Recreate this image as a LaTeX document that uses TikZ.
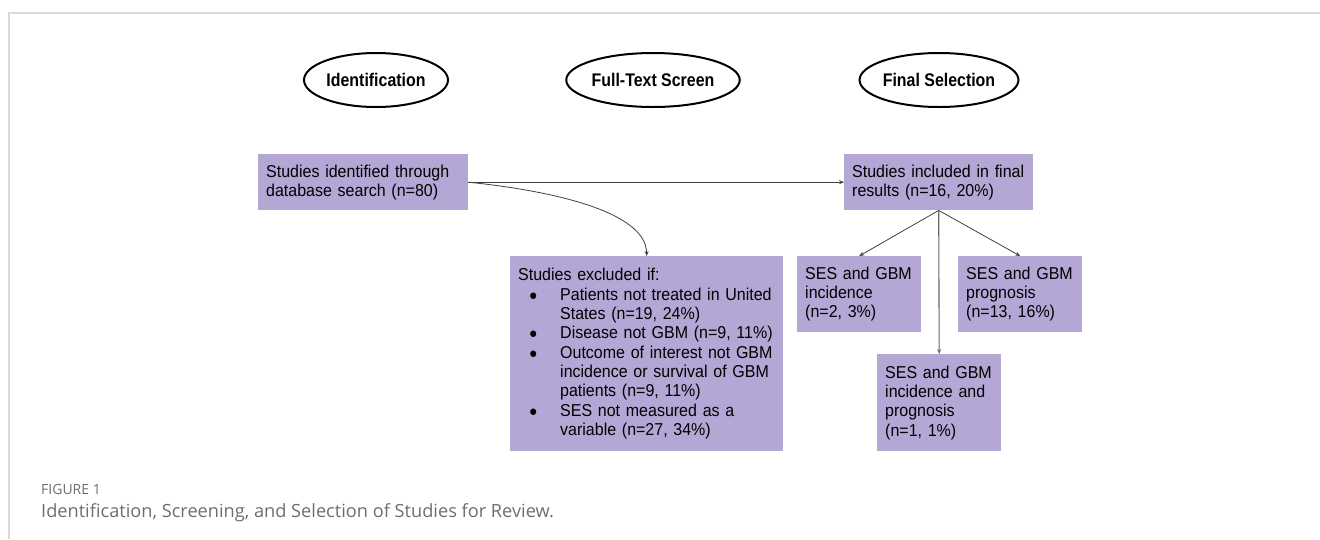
\documentclass[tikz,border=0pt]{standalone}
\usepackage{fontspec}
\setmainfont{Liberation Sans}[FakeStretch=0.93]
\newfontfamily\phasefont{Liberation Sans}[FakeStretch=0.87]
\newfontfamily\capfont{Open Sans}
\usetikzlibrary{arrows.meta,shapes.geometric}
\definecolor{boxfill}{HTML}{B4A7D6}
\definecolor{framegray}{HTML}{D9D9D9}
\definecolor{capgray}{HTML}{6E6E6E}
\newcommand{\bul}{\makebox[42pt][l]{\hspace{11pt}\smash{\fontsize{15}{15}\selectfont ●}}}
\newcommand{\ind}{\hspace*{42pt}}
\begin{document}
\begin{tikzpicture}[x=1pt,y=-1pt,
  box/.style={rectangle, fill=boxfill, anchor=north west, inner xsep=8pt, inner ysep=0pt, align=left, font=\fontsize{17.2}{19.3}\selectfont},
  phase/.style={ellipse, draw, line width=2pt, font=\phasefont\bfseries\fontsize{18.3}{19}\selectfont, minimum width=144pt, minimum height=54pt, inner sep=0pt},
  conn/.style={-{Stealth[length=5pt,width=4pt]}, line width=0.8pt, draw=black!75},
  captext/.style={anchor=base west, inner sep=0pt, text=capgray}
]
\useasboundingbox (0,0) rectangle (1320,539);
\draw[framegray, line width=1.2pt] (9,539) -- (9,13) -- (1320,13);

\node[phase] (pid) at (376,80) {Identification};
\node[phase, minimum width=146pt] (pft) at (653,80) {Full-Text Screen};
\node[phase] (pfs) at (939,80) {Final Selection};

\node[box, text width=194pt, minimum height=56pt] (b1) at (258,154) {Studies identified through\\database search (n=80)};
\node[box, text width=173pt, minimum height=56pt] (b2) at (844,154) {Studies included in final\\results (n=16, 20\%)};
\node[box, text width=257pt, minimum height=195pt] (ex) at (510,256) {Studies excluded if:\\
\bul Patients not treated in United\\
\ind States (n=19, 24\%)\\
\bul Disease not GBM (n=9, 11\%)\\
\bul Outcome of interest not GBM\\
\ind incidence or survival of GBM\\
\ind patients (n=9, 11\%)\\
\bul SES not measured as a\\
\ind variable (n=27, 34\%)};
\node[box, text width=108pt, minimum height=76pt] (inc) at (797,256) {SES and GBM\\incidence\\(n=2, 3\%)};
\node[box, text width=108pt, minimum height=76pt] (prog) at (958,256) {SES and GBM\\prognosis\\(n=13, 16\%)};
\node[box, text width=108pt, minimum height=97pt] (both) at (877,354) {SES and GBM\\incidence and\\prognosis\\(n=1, 1\%)};

\draw[conn] (b1.east) -- (b2.west);
\draw[conn] (b1.east) .. controls (545,190) and (646,210) .. (ex.north);
\draw[conn] (b2.south) -- (inc.north);
\draw[conn] (b2.south) -- (prog.north);
\draw[conn, draw=black!60, line width=1.1pt] (b2.south) -- (both.north);

\node[captext, font=\capfont\fontsize{14}{14}\selectfont] (fig) at (41,494) {FIGURE 1};
\node[captext, font=\capfont\fontsize{18.2}{18}\selectfont] (capt) at (41,517) {Identification, Screening, and Selection of Studies for Review.};
\end{tikzpicture}
\end{document}
